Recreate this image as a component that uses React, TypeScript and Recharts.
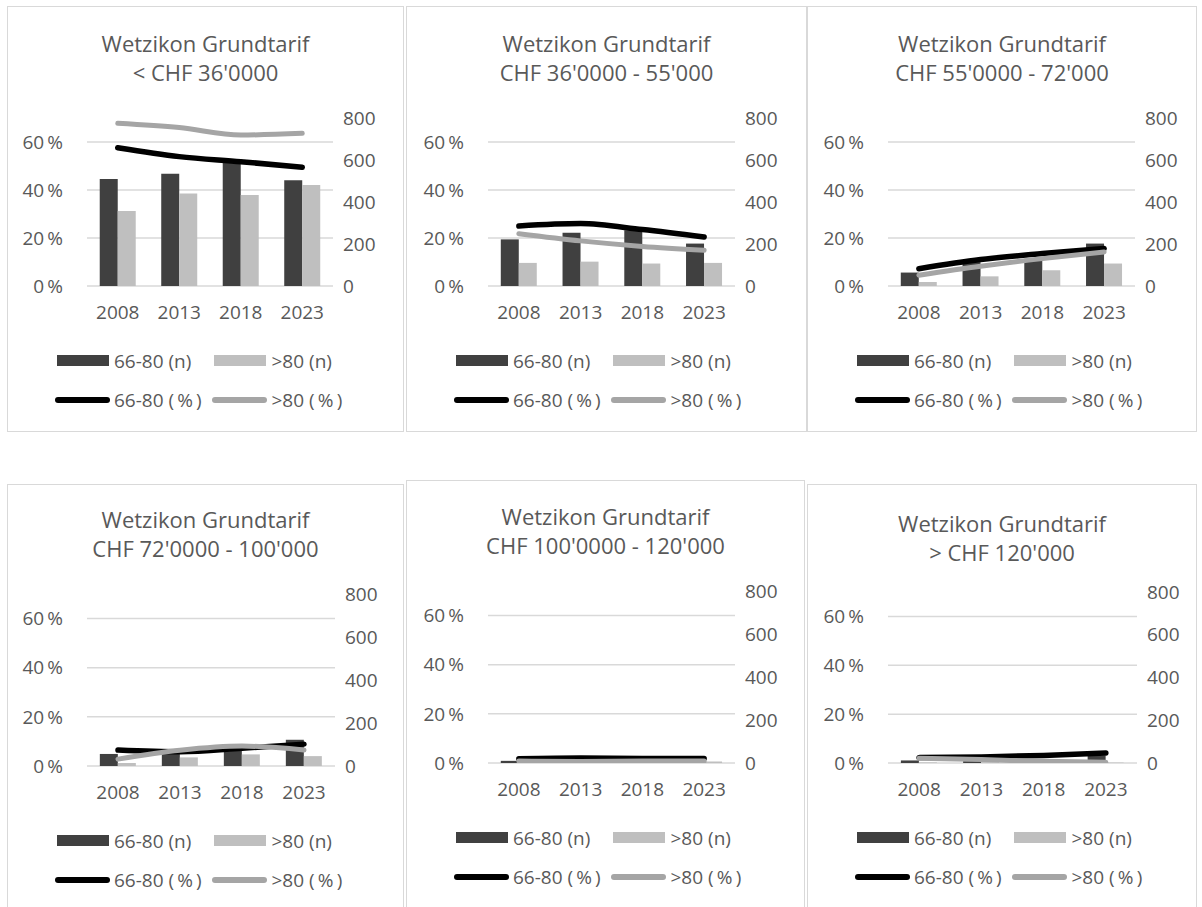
import React from 'react';
import { ComposedChart, Bar, Line, XAxis, YAxis, ReferenceLine, Legend } from 'recharts';

// ---------- data ----------
const years = ['2008', '2013', '2018', '2023'];

const titleLine1 = 'Wetzikon Grundtarif';
const titleLine2 = [
  "< CHF 36'0000",
  "CHF 36'0000 - 55'000",
  "CHF 55'0000 - 72'000",
  "CHF 72'0000 - 100'000",
  "CHF 100'0000 - 120'000",
  "> CHF 120'000",
];

const pctTicks = [0, 0.2, 0.4, 0.6];
const countTicks = [0, 200, 400, 600, 800];

// panel 1: < CHF 36'000
const p1Count6680 = [510, 535, 590, 503];
const p1Count80 = [357, 440, 433, 481];
const p1Pct6680 = [0.576, 0.539, 0.518, 0.495];
const p1Pct80 = [0.678, 0.66, 0.629, 0.636];

// panel 2: CHF 36'000 - 55'000
const p2Count6680 = [222, 254, 265, 202];
const p2Count80 = [110, 116, 107, 110];
const p2Pct6680 = [0.25, 0.26, 0.235, 0.204];
const p2Pct80 = [0.218, 0.188, 0.165, 0.149];

// panel 3: CHF 55'000 - 72'000
const p3Count6680 = [64, 114, 130, 202];
const p3Count80 = [19, 46, 75, 107];
const p3Pct6680 = [0.072, 0.11, 0.135, 0.156];
const p3Pct80 = [0.045, 0.082, 0.114, 0.142];

// panel 4: CHF 72'000 - 100'000
const p4Count6680 = [56, 60, 85, 122];
const p4Count80 = [14, 40, 54, 46];
const p4Pct6680 = [0.065, 0.058, 0.072, 0.089];
const p4Pct80 = [0.028, 0.064, 0.081, 0.065];

// panel 5: CHF 100'000 - 120'000
const p5Count6680 = [10, 11, 10, 12];
const p5Count80 = [4, 5, 6, 7];
const p5Pct6680 = [0.017, 0.02, 0.018, 0.018];
const p5Pct80 = [0.008, 0.006, 0.008, 0.008];

// panel 6: > CHF 120'000
const p6Count6680 = [12, 15, 18, 35];
const p6Count80 = [3, 4, 3, 2];
const p6Pct6680 = [0.022, 0.025, 0.031, 0.041];
const p6Pct80 = [0.019, 0.014, 0.007, 0.003];

const seriesNames = ['66-80 (n)', '>80 (n)', '66-80 (\u2009%\u2009)', '>80 (\u2009%\u2009)'];

// ---------- styles ----------
const FONT = "'Open Sans', 'Noto Sans', sans-serif";
const TEXT = '#595959';
const GRID = '#d9d9d9';
const DARK = '#404040';
const LIGHT = '#bfbfbf';
const BLACK = '#000000';
const GREY = '#a5a5a5';

type Layout = {
  left: number; top: number; w: number; h: number;
  plotL: number; plotR: number; plotTop: number; plotBottom: number; titleCenter: number;
};

const layouts: Layout[] = [
  { left: 7, top: 6, w: 397, h: 426, plotL: 80, plotR: 326, plotTop: 112, plotBottom: 280, titleCenter: 37 },
  { left: 406, top: 6, w: 401, h: 426, plotL: 82, plotR: 329, plotTop: 112, plotBottom: 280, titleCenter: 37 },
  { left: 807, top: 6, w: 390, h: 426, plotL: 81, plotR: 328, plotTop: 112, plotBottom: 280, titleCenter: 37 },
  { left: 7, top: 484, w: 397, h: 430, plotL: 80, plotR: 328, plotTop: 110, plotBottom: 282, titleCenter: 35 },
  { left: 406, top: 480, w: 399, h: 430, plotL: 82, plotR: 329, plotTop: 111, plotBottom: 283, titleCenter: 36.5 },
  { left: 807, top: 484, w: 390, h: 430, plotL: 81, plotR: 330, plotTop: 108, plotBottom: 279, titleCenter: 39 },
];

const panelSeries = [
  [p1Count6680, p1Count80, p1Pct6680, p1Pct80],
  [p2Count6680, p2Count80, p2Pct6680, p2Pct80],
  [p3Count6680, p3Count80, p3Pct6680, p3Pct80],
  [p4Count6680, p4Count80, p4Pct6680, p4Pct80],
  [p5Count6680, p5Count80, p5Pct6680, p5Pct80],
  [p6Count6680, p6Count80, p6Pct6680, p6Pct80],
];

const buildRows = (s: number[][]) =>
  years.map((y, i) => ({ year: y, n6680: s[0][i], n80: s[1][i], p6680: s[2][i], p80: s[3][i] }));

const pctFmt = (v: number) => `${Math.round(v * 100)}\u2009%`;

const LegendBox = () => {
  const rowY = [12, 51.3];
  const sym = (kind: 'bar' | 'line', color: string, x: number, y: number) =>
    kind === 'bar' ? (
      <div style={{ position: 'absolute', left: x, top: y - 5.5, width: 52, height: 11, background: color }} />
    ) : (
      <div style={{ position: 'absolute', left: x, top: y - 2.75, width: 55, height: 5.5, borderRadius: 3, background: color }} />
    );
  const label = (text: string, x: number, y: number) => (
    <div style={{ position: 'absolute', left: x, top: y - 14, height: 28, lineHeight: '28px', whiteSpace: 'nowrap' }}>{text}</div>
  );
  return (
    <div style={{ position: 'relative', width: '100%', height: 66, fontFamily: FONT, fontSize: 19, color: TEXT }}>
      {sym('bar', DARK, 48.5, rowY[0])}
      {label(seriesNames[0], 106, rowY[0])}
      {sym('bar', LIGHT, 206, rowY[0])}
      {label(seriesNames[1], 263.5, rowY[0])}
      {sym('line', BLACK, 47, rowY[1])}
      {label(seriesNames[2], 106, rowY[1])}
      {sym('line', GREY, 204, rowY[1])}
      {label(seriesNames[3], 263.5, rowY[1])}
    </div>
  );
};

const Panel = ({ idx }: { idx: number }) => {
  const L = layouts[idx];
  const data = buildRows(panelSeries[idx]);
  const innerW = L.w - 2;
  const innerH = L.h - 2;
  const xAxisH = 40;
  const plotTop = L.plotTop - 1;
  const plotBottom = L.plotBottom - 1;
  const leftW = L.plotL - 1;
  const rightW = innerW - (L.plotR - 1);
  const legendTop = plotBottom + 74.7 - 12;
  return (
    <div
      style={{
        position: 'absolute', left: L.left, top: L.top, width: L.w, height: L.h,
        boxSizing: 'border-box', border: `1.5px solid ${GRID}`, background: '#fff',
      }}
    >
      <div
        style={{
          position: 'absolute', left: 0, width: innerW, top: L.titleCenter - 1 - 14.5,
          textAlign: 'center', fontFamily: FONT, fontSize: 22, lineHeight: '29px', color: TEXT,
        }}
      >
        <div>{titleLine1}</div>
        <div>{titleLine2[idx]}</div>
      </div>
      {/* background layer: horizontal gridlines of the percentage axis, behind the bars */}
      <div style={{ position: 'absolute', left: 0, top: 0 }}>
        <ComposedChart
          width={innerW}
          height={innerH}
          data={data}
          margin={{ top: plotTop, right: rightW, left: leftW, bottom: innerH - plotBottom }}
        >
          <XAxis dataKey="year" hide />
          <YAxis yAxisId="pct" hide domain={[0, 0.7]} ticks={pctTicks} allowDataOverflow />
          {pctTicks.map((t) => (
            <ReferenceLine key={t} yAxisId="pct" y={t} stroke={GRID} strokeWidth={1.5} />
          ))}
        </ComposedChart>
      </div>
      {/* foreground layer: axes, bars, lines, legend */}
      <div style={{ position: 'absolute', left: 0, top: 0 }}>
        <ComposedChart
          width={innerW}
          height={innerH}
          data={data}
          margin={{ top: plotTop, right: 0, left: 0, bottom: innerH - plotBottom - xAxisH }}
          barCategoryGap="20.7%"
          barGap={0}
          style={{ fontFamily: FONT }}
        >
          <XAxis
            dataKey="year"
            height={xAxisH}
            axisLine={false}
            tickLine={false}
            tickSize={0}
            tickMargin={20}
            tick={{ fill: TEXT, fontSize: 19 }}
            interval={0}
          />
          <YAxis
            yAxisId="pct"
            orientation="left"
            width={leftW}
            domain={[0, 0.7]}
            ticks={pctTicks}
            tickFormatter={pctFmt}
            axisLine={false}
            tickLine={false}
            tickSize={0}
            tickMargin={24}
            tick={{ fill: TEXT, fontSize: 19 }}
            interval={0}
            allowDataOverflow
          />
          <YAxis
            yAxisId="n"
            orientation="right"
            width={rightW}
            domain={[0, 800]}
            ticks={countTicks}
            axisLine={false}
            tickLine={false}
            tickSize={0}
            tickMargin={10}
            tick={{ fill: TEXT, fontSize: 19 }}
            interval={0}
            allowDataOverflow
          />
          <Legend
            verticalAlign="middle"
            align="center"
            layout="horizontal"
            content={() => <LegendBox />}
            wrapperStyle={{ top: legendTop, left: 0, width: innerW, height: 66 }}
          />
          <Bar yAxisId="n" dataKey="n6680" name={seriesNames[0]} fill={DARK} isAnimationActive={false} />
          <Bar yAxisId="n" dataKey="n80" name={seriesNames[1]} fill={LIGHT} isAnimationActive={false} />
          <Line
            yAxisId="pct"
            type="monotone"
            dataKey="p6680"
            name={seriesNames[2]}
            stroke={BLACK}
            strokeWidth={5.5}
            strokeLinecap="round"
            dot={false}
            activeDot={false}
            isAnimationActive={false}
          />
          <Line
            yAxisId="pct"
            type="monotone"
            dataKey="p80"
            name={seriesNames[3]}
            stroke={GREY}
            strokeWidth={5}
            strokeLinecap="round"
            dot={false}
            activeDot={false}
            isAnimationActive={false}
          />
        </ComposedChart>
      </div>
    </div>
  );
};

export default function App() {
  return (
    <div
      style={{
        position: 'absolute', left: 0, top: 0, width: 1202, height: 907,
        overflow: 'hidden', background: '#fff',
      }}
    >
      {layouts.map((_, i) => (
        <Panel key={i} idx={i} />
      ))}
    </div>
  );
}
